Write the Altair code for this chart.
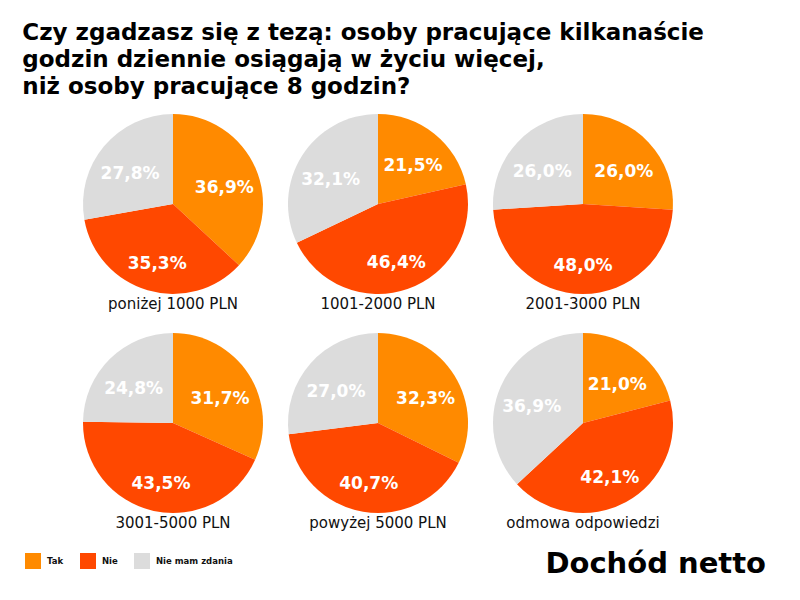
import altair as alt
import pandas as pd

categories = ["poniżej 1000 PLN", "1001-2000 PLN", "2001-3000 PLN",
              "3001-5000 PLN", "powyżej 5000 PLN", "odmowa odpowiedzi"]
answers = ["Tak", "Nie", "Nie mam zdania"]
tak = [36.9, 21.5, 26.0, 31.7, 32.3, 21.0]
nie = [35.3, 46.4, 48.0, 43.5, 40.7, 42.1]
brak = [27.8, 32.1, 26.0, 24.8, 27.0, 36.9]
colors = ["#FF8A00", "#FF4800", "#DCDCDC"]

rows = []
for i, c in enumerate(categories):
    for j, (a, vals) in enumerate(zip(answers, [tak, nie, brak])):
        v = vals[i]
        rows.append({"kat": c, "odp": a, "ord": j, "v": v,
                     "lab": f"{v:.1f}".replace(".", ",") + "%"})
df = pd.DataFrame(rows)

FONT = "DejaVu Sans"

base = alt.Chart().encode(
    theta=alt.Theta("v:Q", stack=True),
    order=alt.Order("ord:Q"),
)
arc = base.mark_arc(outerRadius=90, stroke=None).encode(
    color=alt.Color("odp:N", scale=alt.Scale(domain=answers, range=colors),
                    legend=alt.Legend(title=None, orient="none", direction="horizontal",
                                      legendX=0, legendY=439,
                                      symbolType="square", symbolSize=256,
                                      symbolStrokeWidth=0, symbolOpacity=1,
                                      labelFont=FONT, labelFontSize=8.5,
                                      labelFontWeight="bold", labelColor="#111",
                                      columnPadding=16, labelOffset=6))
)
txt = base.mark_text(radius=56, dy=6, font=FONT, fontSize=17, fontWeight="bold",
                     color="white").encode(text="lab:N")

pies = alt.layer(arc, txt, data=df).properties(width=180, height=180).facet(
    facet=alt.Facet("kat:N", sort=categories,
                    header=alt.Header(title=None, labelOrient="bottom",
                                      labelFont=FONT, labelFontSize=15,
                                      labelColor="#111", labelPadding=3)),
    columns=3, spacing={"column": 25, "row": 21},
)

spacer = alt.Chart(pd.DataFrame({"a": [0]})).mark_point(opacity=0).encode(
    x=alt.value(0), y=alt.value(0)
).properties(width=38, height=10)

bottom_df = pd.DataFrame({"t": ["Dochód netto"]})
bottom = alt.Chart(bottom_df).mark_text(
    font=FONT, fontSize=29, fontWeight="bold", color="#000",
    align="right", baseline="alphabetic"
).encode(text="t:N", x=alt.value(741), y=alt.value(42)).properties(width=743, height=50)

chart = alt.vconcat(
    alt.hconcat(spacer, pies, spacing=20),
    bottom,
    spacing=0,
).properties(
    title=alt.TitleParams(
        ["Czy zgadzasz się z tezą: osoby pracujące kilkanaście",
         "godzin dziennie osiągają w życiu więcej,",
         "niż osoby pracujące 8 godzin?"],
        anchor="start", font=FONT, fontSize=23, fontWeight="bold",
        color="#000", lineHeight=27, offset=12),
    padding={"left": 14, "top": 14, "right": 5, "bottom": 5},
).configure_view(stroke=None)

chart.save("out.html", embed_options={"renderer": "svg", "actions": False})
